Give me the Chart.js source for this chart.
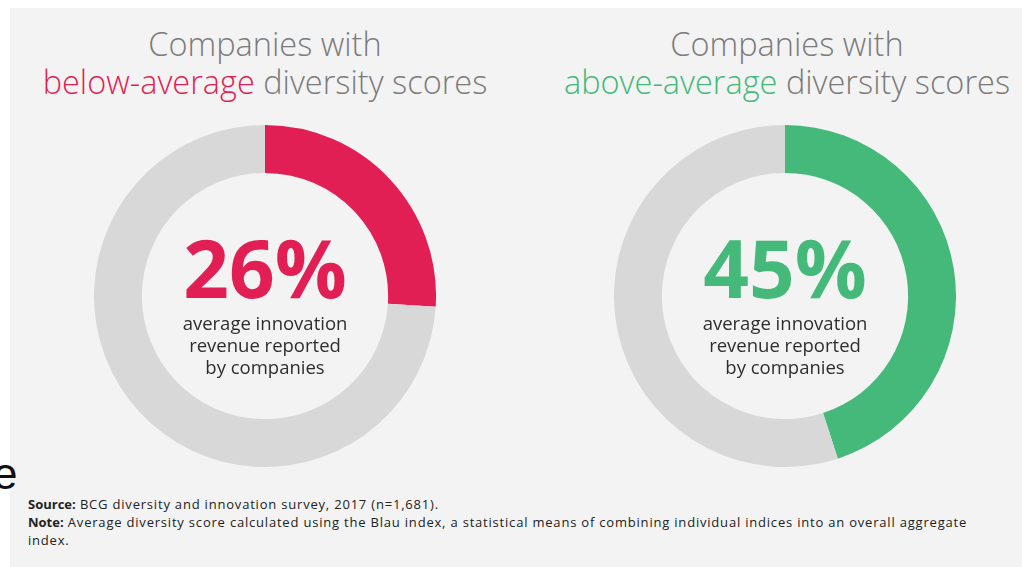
<!DOCTYPE html>
<html lang="en">

<head>
    <meta charset="UTF-8">
    <title>Diversity and innovation revenue</title>
    <script src="https://cdn.jsdelivr.net/npm/chart.js@4.4.0/dist/chart.umd.min.js"></script>
    <style>
        body {
            margin: 0;
            width: 1022px;
            height: 567px;
            background: #fff;
            overflow: hidden;
            position: relative;
            font-family: 'Open Sans', sans-serif;
        }

        .panel {
            position: absolute;
            left: 10px;
            top: 8px;
            width: 1012px;
            height: 559px;
            background: #f3f3f3;
        }

        .stray {
            position: absolute;
            left: -7px;
            top: 449px;
            font-size: 44px;
            color: #111;
            font-family: 'Liberation Sans', sans-serif;
        }

        .title {
            position: absolute;
            width: 560px;
            text-align: center;
            font-weight: 300;
            font-size: 32.5px;
            line-height: 38px;
            color: #7b7b7b;
            top: 25px;
        }

        .donut {
            position: absolute;
            width: 342px;
            height: 342px;
        }

        .footer {
            position: absolute;
            left: 28px;
            top: 495px;
            width: 990px;
            font-family: 'Open Sans', sans-serif;
            font-size: 13px;
            line-height: 18px;
            color: #222;
            letter-spacing: 0.8px;
        }

        .footer b {
            font-weight: bold;
            letter-spacing: 0;
        }
    </style>
</head>

<body>
    <div class="panel"></div>
    <div class="stray">e</div>

    <div class="title" id="titleLeft" style="left: -15px;"></div>
    <div class="title" id="titleRight" style="left: 507px;"></div>

    <div class="donut" style="left: 94px; top: 125px;"><canvas id="chartLow"></canvas></div>
    <div class="donut" style="left: 614px; top: 125px;"><canvas id="chartHigh"></canvas></div>

    <div class="footer">
        <b>Source:</b> BCG diversity and innovation survey, 2017 (n=1,681).<br>
        <b>Note:</b> Average diversity score calculated using the Blau index, a statistical means of combining individual indices into an overall aggregate<br>
        index.
    </div>

    <script>
        // innovation revenue share (%) for each group
        const groups = ['below-average', 'above-average'];
        const revenueShare = [26, 45];
        const groupColors = ['#e21f55', '#44b979'];
        const restColor = '#d8d8d8';
        const caption = ['average innovation', 'revenue reported', 'by companies'];

        // titles: "Companies with" + coloured group name
        document.getElementById('titleLeft').innerHTML =
            'Companies with<br><span style="color:' + groupColors[0] + '">' + groups[0] + '</span> diversity scores';
        document.getElementById('titleRight').innerHTML =
            'Companies with<br><span style="color:' + groupColors[1] + '">' + groups[1] + '</span> diversity scores';

        // writes the percentage and caption in the hole of the doughnut
        const centerText = {
            id: 'centerText',
            afterDraw(chart) {
                const ctx = chart.ctx;
                const arc = chart.getDatasetMeta(0).data[0];
                const cx = arc.x;
                const cy = arc.y;
                const value = chart.data.datasets[0].data[0];
                ctx.save();
                ctx.textAlign = 'center';
                ctx.textBaseline = 'alphabetic';
                ctx.fillStyle = chart.data.datasets[0].backgroundColor[0];
                ctx.font = 'bold 80px "Open Sans"';
                ctx.fillText(value + '%', cx, cy + 2);
                ctx.fillStyle = '#2e2e2e';
                ctx.font = '18.5px "Open Sans"';
                caption.forEach((line, i) => {
                    ctx.fillText(line, cx, cy + 34 + i * 22);
                });
                ctx.restore();
            }
        };

        function makeDonut(id, idx) {
            const value = revenueShare[idx];
            return new Chart(document.getElementById(id), {
                type: 'doughnut',
                data: {
                    labels: [groups[idx], 'other'],
                    datasets: [{
                        data: [value, 100 - value],
                        backgroundColor: [groupColors[idx], restColor],
                        borderWidth: 0
                    }]
                },
                options: {
                    cutout: '72%',
                    responsive: true,
                    maintainAspectRatio: false,
                    animation: false,
                    events: [],
                    layout: { padding: 0 },
                    plugins: {
                        legend: { display: false },
                        tooltip: { enabled: false }
                    }
                },
                plugins: [centerText]
            });
        }

        makeDonut('chartLow', 0);
        makeDonut('chartHigh', 1);
    </script>

</body>

</html>
